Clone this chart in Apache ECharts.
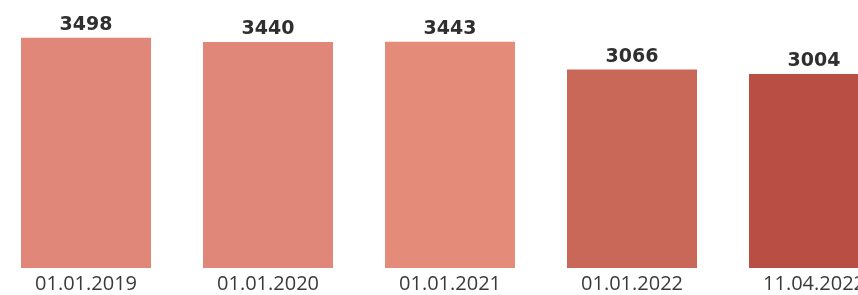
<!DOCTYPE html>
<html>
<head>
<meta charset="utf-8">
<script src="https://cdn.jsdelivr.net/npm/echarts@6/dist/echarts.min.js"></script>
<style>
  html, body { margin: 0; padding: 0; background: #fff; }
  #chart { width: 858px; height: 295px; }
</style>
</head>
<body>
<div id="chart"></div>
<script>
// data
const dates = ['01.01.2019', '01.01.2020', '01.01.2021', '01.01.2022', '11.04.2022'];
const counts = [3498, 3440, 3443, 3066, 3004];

// bar colours, left to right
const barColors = ['#e0877a', '#e0877a', '#e48b79', '#c96858', '#b94e45'];

const chart = echarts.init(document.getElementById('chart'));

const option = {
  animation: false,
  grid: {
    left: -5,
    width: 910,
    top: 0,
    bottom: 27,
    containLabel: false,
    outerBoundsMode: 'none'
  },
  xAxis: {
    type: 'category',
    data: dates,
    axisLine: { show: false },
    axisTick: { show: false },
    axisLabel: {
      margin: 6,
      color: '#3a3a3a',
      fontSize: 20,
      fontFamily: 'Open Sans'
    }
  },
  yAxis: {
    type: 'value',
    min: 365,
    max: 4011,
    show: false,
    splitLine: { show: false }
  },
  series: [
    {
      type: 'bar',
      barWidth: 130,
      data: counts.map((v, i) => ({
        value: v,
        itemStyle: { color: barColors[i] }
      })),
      label: {
        show: true,
        position: 'top',
        distance: 3,
        color: '#2f2f2f',
        fontSize: 19,
        fontWeight: 'bold',
        fontFamily: 'DejaVu Sans'
      }
    }
  ]
};

chart.setOption(option);
</script>
</body>
</html>
